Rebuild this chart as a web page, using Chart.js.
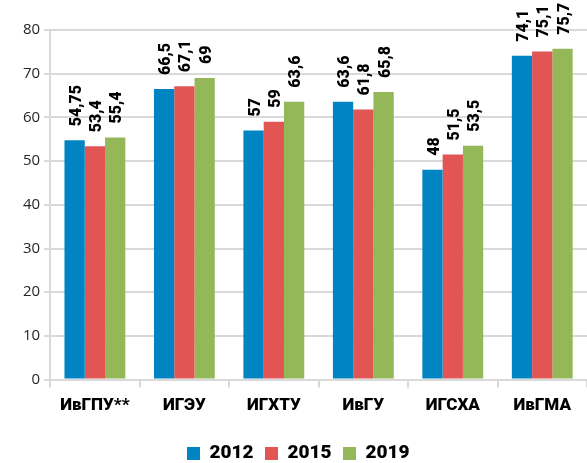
<!DOCTYPE html>
<html><head><meta charset="utf-8">
<script src="https://cdn.jsdelivr.net/npm/chart.js@4"></script>
<style>html,body{margin:0;padding:0;background:#fff}#wrap{width:587px;height:463px}</style>
</head><body><div id="wrap"><canvas id="c" width="587" height="463"></canvas></div>
<script>
const categories = ['ИвГПУ**', 'ИГЭУ', 'ИГХТУ', 'ИвГУ', 'ИГСХА', 'ИвГМА'];
const seriesNames = ['2012', '2015', '2019'];
const values2012 = [54.75, 66.5, 57, 63.6, 48, 74.1];
const values2015 = [53.4, 67.1, 59, 61.8, 51.5, 75.1];
const values2019 = [55.4, 69, 63.6, 65.8, 53.5, 75.7];
const labels2012 = ['54,75', '66,5', '57', '63,6', '48', '74,1'];
const labels2015 = ['53,4', '67,1', '59', '61,8', '51,5', '75,1'];
const labels2019 = ['55,4', '69', '63,6', '65,8', '53,5', '75,7'];
const yTicks = [0, 10, 20, 30, 40, 50, 60, 70, 80];

const colors = ['#0084C2', '#E25555', '#94B858'];
const boldFont = "'Roboto', 'DejaVu Sans', sans-serif";

const labelPlugin = {
  id: 'rotLabels',
  afterDatasetsDraw(chart) {
    const ctx = chart.ctx;
    const lbls = [labels2012, labels2015, labels2019];
    chart.data.datasets.forEach((ds, i) => {
      const meta = chart.getDatasetMeta(i);
      meta.data.forEach((bar, j) => {
        ctx.save();
        ctx.translate(bar.x + 2, bar.y - 14);
        ctx.rotate(-Math.PI / 2);
        ctx.font = "900 16px " + boldFont;
        ctx.fillStyle = '#000';
        ctx.textAlign = 'left';
        ctx.textBaseline = 'middle';
        ctx.fillText(lbls[i][j], 0, 0);
        ctx.restore();
      });
    });
  }
};

new Chart(document.getElementById('c'), {
  type: 'bar',
  data: {
    labels: categories,
    datasets: [
      { label: seriesNames[0], data: values2012, backgroundColor: colors[0] },
      { label: seriesNames[1], data: values2015, backgroundColor: colors[1] },
      { label: seriesNames[2], data: values2019, backgroundColor: colors[2] }
    ]
  },
  options: {
    responsive: false,
    animation: false,
    layout: { padding: { top: 30, right: 0, left: 19, bottom: -10 } },
    datasets: { bar: { categoryPercentage: 0.68, barPercentage: 1.0, borderWidth: 0 } },
    plugins: {
      tooltip: { enabled: false },
      legend: {
        position: 'bottom',
        labels: {
          boxWidth: 13, boxHeight: 13, padding: 2,
          color: '#000',
          font: { family: boldFont, size: 19, weight: '900' },
          generateLabels(chart) {
            const items = Chart.defaults.plugins.legend.labels.generateLabels(chart);
            items.forEach(it => { it.text = it.text + '  '; });
            return items;
          }
        }
      }
    },
    scales: {
      x: {
        afterFit(axis) { axis.height += 18; },
        grid: { display: true, drawOnChartArea: false, drawTicks: true, tickLength: 8, color: '#d9d9d9', lineWidth: 2 },
        border: { display: true, color: '#d9d9d9', width: 2 },
        ticks: { color: '#000', padding: 8, font: { family: boldFont, size: 17, weight: '900' } }
      },
      y: {
        min: 0, max: 80,
        afterBuildTicks(axis) { axis.ticks = yTicks.map(v => ({ value: v })); },
        grid: { color: '#d9d9d9', lineWidth: 2, tickLength: 6 },
        border: { display: true, color: '#d9d9d9', width: 2 },
        ticks: { color: '#262626', padding: 4, font: { family: "'Open Sans', 'DejaVu Sans', sans-serif", size: 15 } }
      }
    }
  },
  plugins: [labelPlugin]
});
</script></body></html>
